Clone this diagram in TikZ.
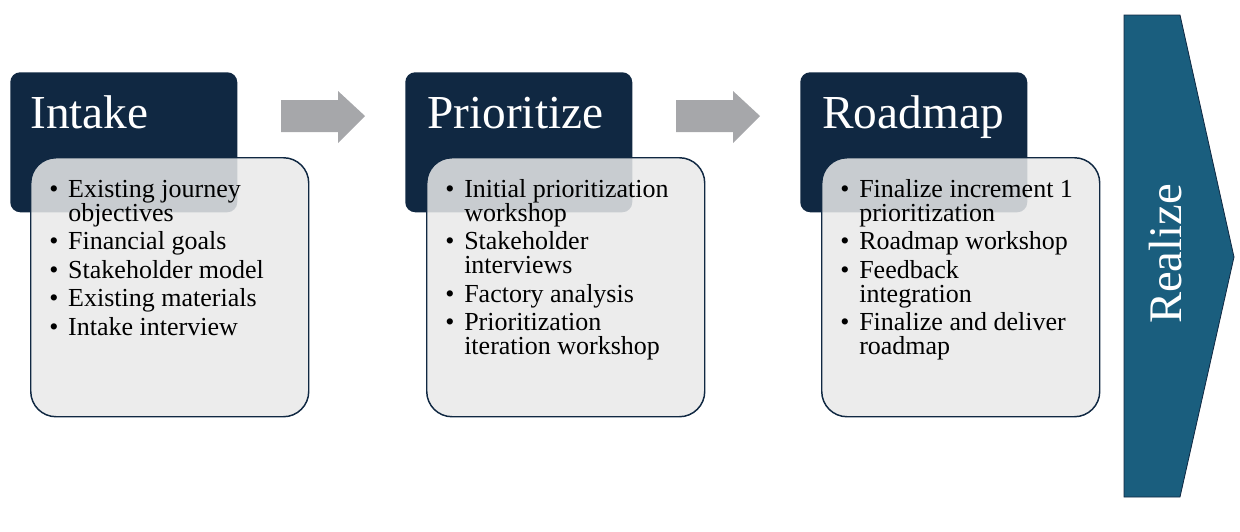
\documentclass[tikz,border=0pt]{standalone}
\usepackage{fontspec}
\setmainfont{Liberation Serif}
\definecolor{navy}{RGB}{16,40,66}
\definecolor{tealc}{RGB}{26,94,126}
\definecolor{boxgray}{RGB}{233,233,233}
\definecolor{arrowgray}{RGB}{166,167,170}
\newcommand\mystrutfix{\setbox\strutbox\hbox{\vrule height 13.8pt depth 4.2pt width 0pt}}
\begin{document}
\begin{tikzpicture}[x=0.75pt,y=-0.75pt,
  hdr/.style={fill=navy, rounded corners=7.5pt, minimum width=170.25pt, minimum height=105pt, inner sep=0pt, anchor=north west},
  card/.style={fill=boxgray, fill opacity=0.85, draw=navy, line width=1.1pt, rounded corners=19pt, minimum width=208.5pt, minimum height=194.25pt, inner sep=0pt, anchor=north west},
  title/.style={text=white, font=\fontsize{35.5}{40}\selectfont, inner sep=0pt, anchor=base west},
  list/.style={text=black, font=\fontsize{19.5}{18}\selectfont\mystrutfix, inner sep=0pt, anchor=base west},
  garrow/.style={fill=arrowgray},
  chev/.style={fill=tealc, draw=navy, line width=0.6pt}
]
\useasboundingbox (0,0) rectangle (1240,532);

% Intake
\node[hdr] (h1) at (10,72) {};
\node[card] (c1) at (30,157) {};
\node[title] (t1) at (30,128) {Intake};
\node[list] (l1) at (49,197) {\begin{tabular}[t]{@{}p{14.25pt}@{}l@{}}
\textbullet & Existing journey\\ & objectives\\[3.4pt]
\textbullet & Financial goals\\[3.4pt]
\textbullet & Stakeholder model\\[3.4pt]
\textbullet & Existing materials\\[3.4pt]
\textbullet & Intake interview
\end{tabular}};

% Prioritize
\node[hdr] (h2) at (405,72) {};
\node[card] (c2) at (426,157) {};
\node[title] (t2) at (427,128) {Prioritize};
\node[list] (l2) at (445,197) {\begin{tabular}[t]{@{}p{14.25pt}@{}l@{}}
\textbullet & Initial prioritization\\ & workshop\\[3.4pt]
\textbullet & Stakeholder\\ & interviews\\[3.4pt]
\textbullet & Factory analysis\\[3.4pt]
\textbullet & Prioritization\\ & iteration workshop
\end{tabular}};

% Roadmap
\node[hdr] (h3) at (800,72) {};
\node[card] (c3) at (821,157) {};
\node[title] (t3) at (822,128) {Roadmap};
\node[list] (l3) at (840,197) {\begin{tabular}[t]{@{}p{14.25pt}@{}l@{}}
\textbullet & Finalize increment 1\\ & prioritization\\[3.4pt]
\textbullet & Roadmap workshop\\[3.4pt]
\textbullet & Feedback\\ & integration\\[3.4pt]
\textbullet & Finalize and deliver\\ & roadmap
\end{tabular}};

% block arrows
\fill[garrow] (281,100) -- (338,100) -- (338,91) -- (365,116) -- (338,143) -- (338,132) -- (281,132) -- cycle;
\fill[garrow] (676,100) -- (733,100) -- (733,91) -- (760,116) -- (733,143) -- (733,132) -- (676,132) -- cycle;

% Realize chevron
\filldraw[chev] (1124,15) -- (1180,15) -- (1234,257) -- (1180,497) -- (1124,497) -- cycle;
\node[rotate=90, text=white, font=\fontsize{35}{40}\selectfont, inner sep=0pt] (rz) at (1166,254) {Realize};
\end{tikzpicture}
\end{document}
